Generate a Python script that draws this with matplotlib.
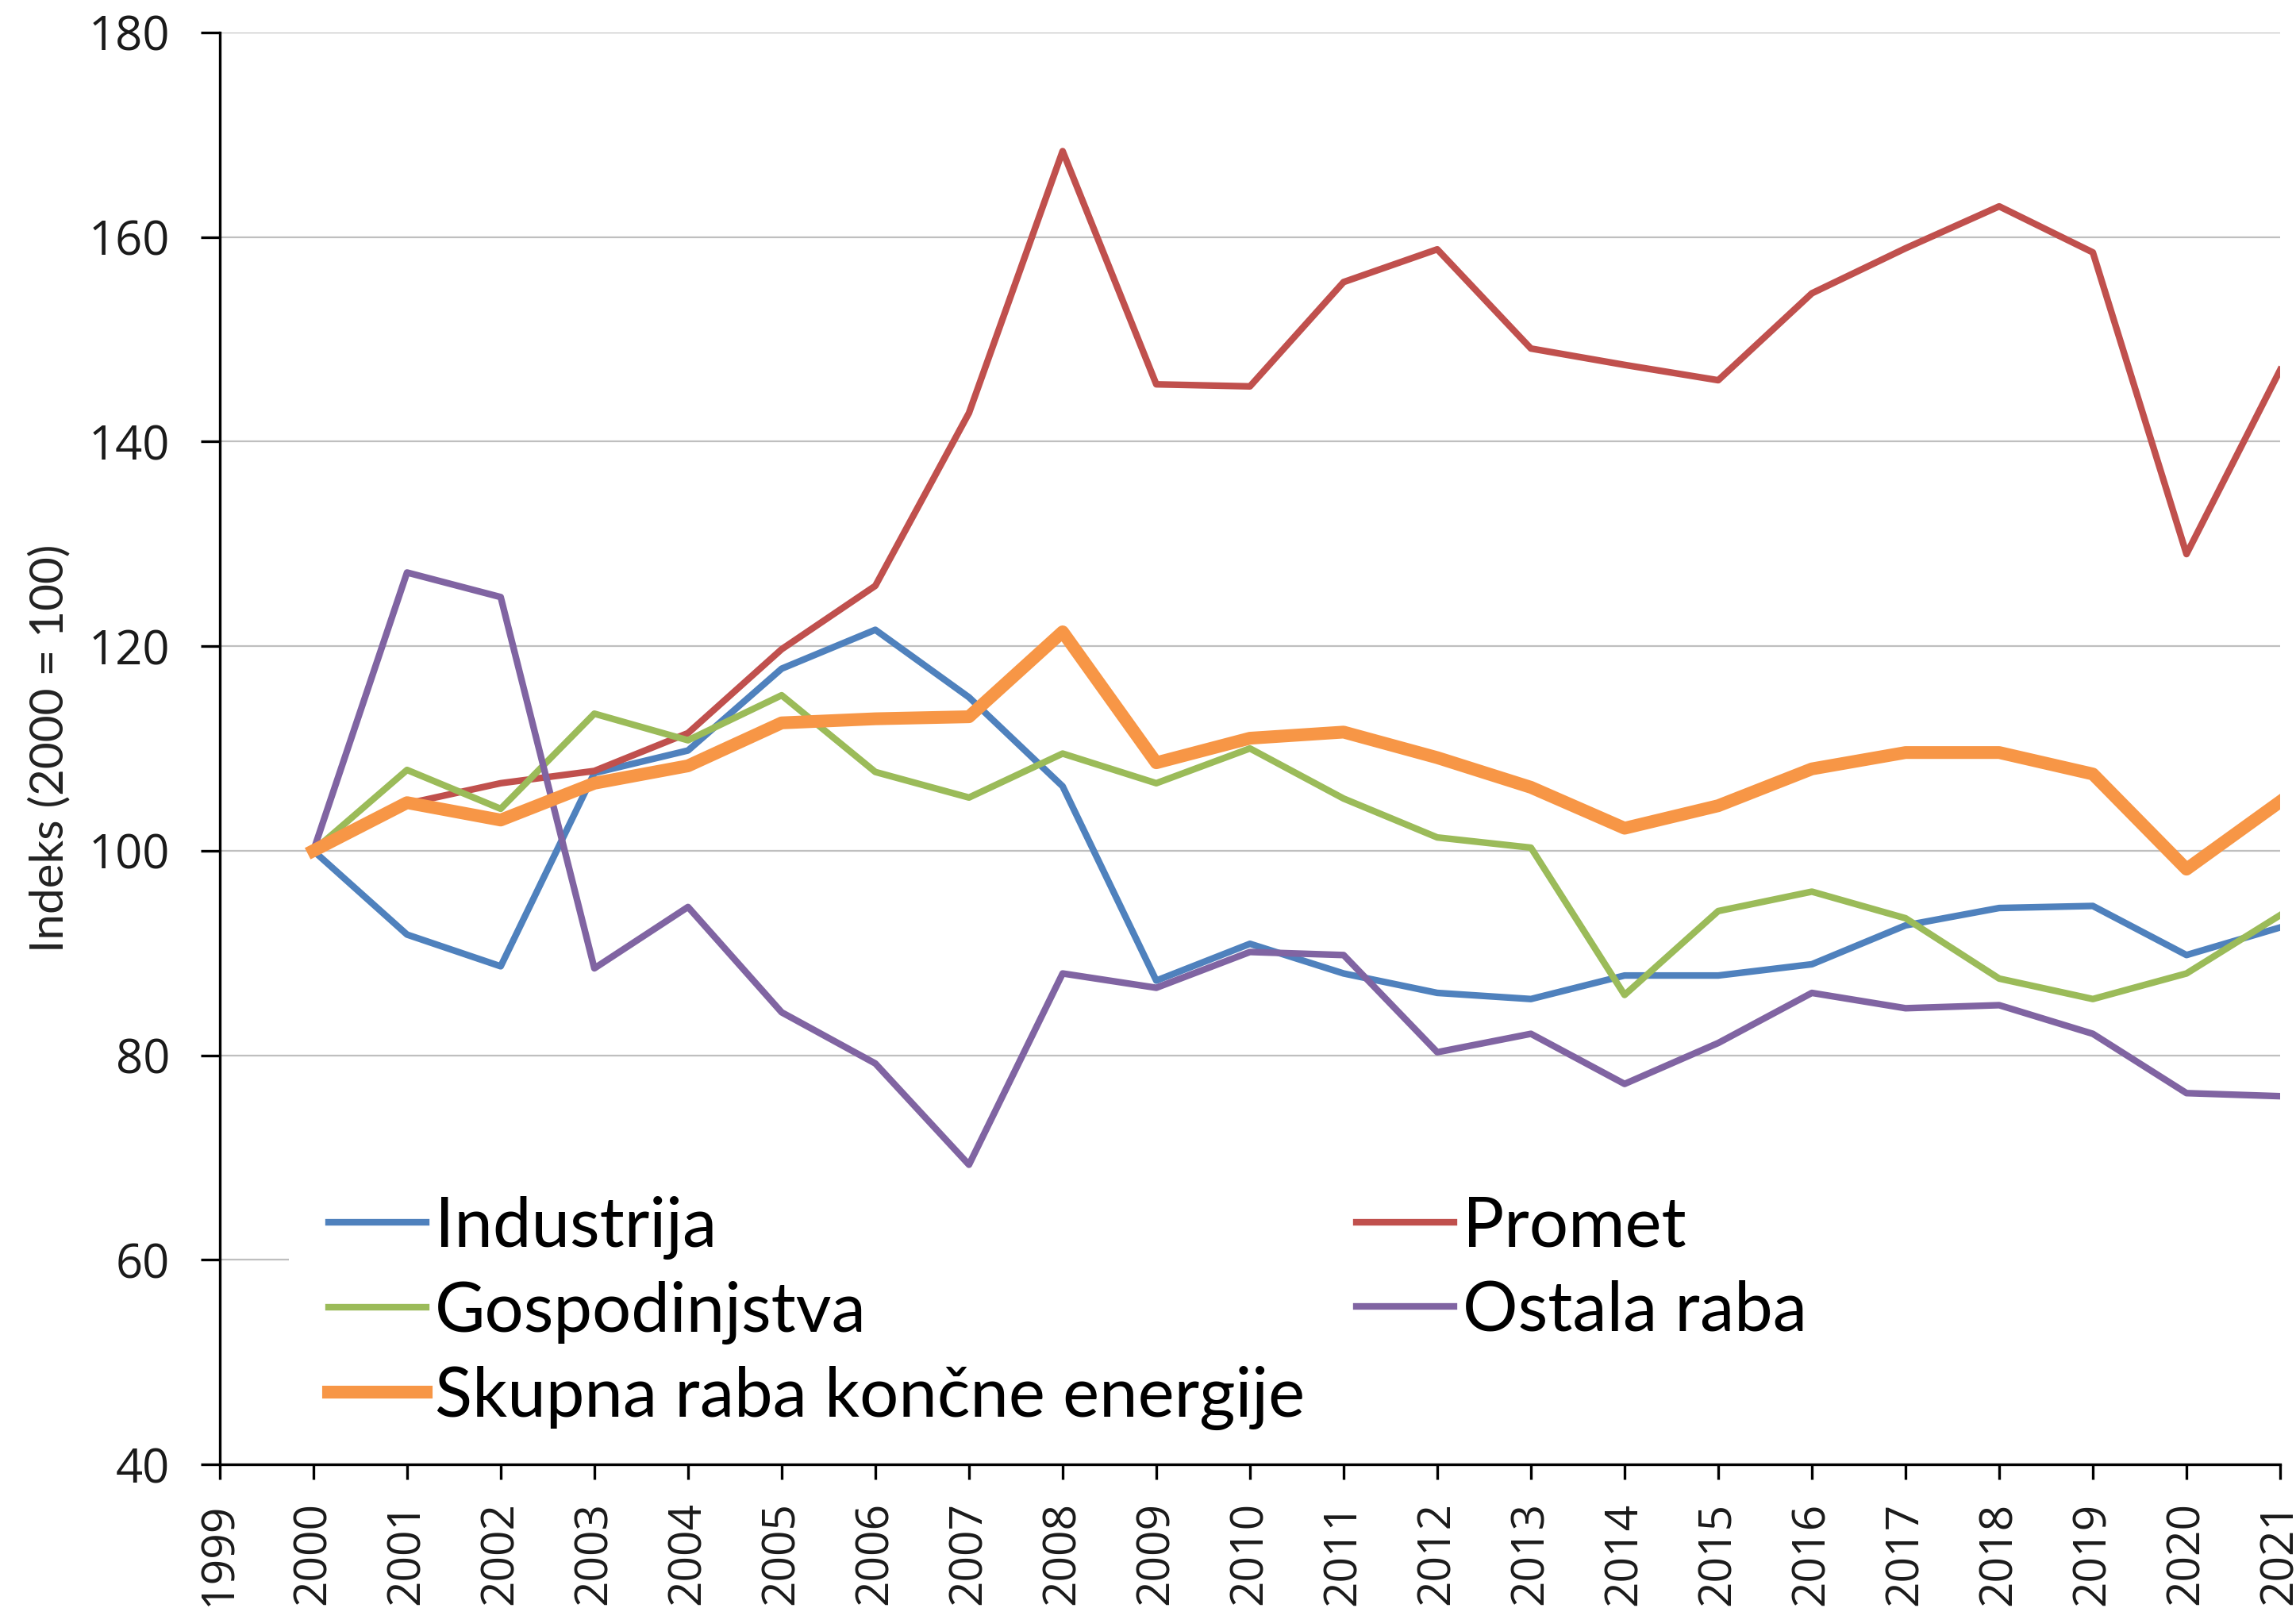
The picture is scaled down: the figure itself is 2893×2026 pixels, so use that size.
import matplotlib
matplotlib.use("Agg")
import matplotlib.pyplot as plt
from matplotlib.patches import Rectangle

# index values (2000 = 100)
years = list(range(2000, 2022))
industrija = [100, 91.8, 88.7, 107.6, 109.8, 117.8, 121.6, 115.0, 106.3, 87.3, 90.9,
              88.0, 86.1, 85.5, 87.8, 87.8, 88.9, 92.7, 94.4, 94.6, 89.8, 92.5]
promet = [100, 104.6, 106.6, 107.8, 111.5, 119.7, 125.9, 142.8, 168.4, 145.6, 145.4,
          155.6, 158.8, 149.1, 147.5, 146.0, 154.5, 158.9, 163.0, 158.5, 129.0, 147.0]
gospodinjstva = [100, 107.9, 104.1, 113.4, 110.8, 115.2, 107.7, 105.2, 109.5, 106.6, 110.0,
                 105.1, 101.3, 100.3, 85.9, 94.1, 96.0, 93.4, 87.5, 85.5, 88.0, 93.7]
ostala = [100, 127.2, 124.8, 88.5, 94.5, 84.2, 79.2, 69.3, 88.0, 86.6, 90.1,
          89.8, 80.3, 82.1, 77.2, 81.2, 86.1, 84.6, 84.9, 82.1, 76.3, 76.0]
skupna = [100, 104.7, 103.0, 106.6, 108.3, 112.5, 112.9, 113.1, 121.4, 108.6, 111.0,
          111.6, 109.1, 106.2, 102.2, 104.4, 108.0, 109.6, 109.6, 107.5, 98.2, 104.8]

tick_years = list(range(1999, 2022))
yticks = [40, 60, 80, 100, 120, 140, 160, 180]

fig = plt.figure(figsize=(2893 / 200, 2026 / 200), dpi=200)
ax = fig.add_axes([0.0957, 0.0893, 0.8974, 0.8905])

thin = 3.0
l_ind, = ax.plot(years, industrija, color="#4F81BD", lw=thin, label="Industrija", zorder=3)
l_pro, = ax.plot(years, promet, color="#C0504D", lw=thin, label="Promet", zorder=3)
l_gos, = ax.plot(years, gospodinjstva, color="#9BBB59", lw=thin, label="Gospodinjstva", zorder=3)
l_ost, = ax.plot(years, ostala, color="#8064A2", lw=thin, label="Ostala raba", zorder=3)
l_sku, = ax.plot(years, skupna, color="#F79646", lw=5.8, label="Skupna raba končne energije",
                 zorder=4)

ax.set_xlim(1999, 2021)
ax.set_ylim(40, 180)
ax.set_xticks(tick_years)
ax.set_xticklabels([str(y) for y in tick_years], rotation=90, fontsize=20.5,
                   family="Open Sans", color="#1a1a1a")
ax.set_yticks(yticks)
ax.set_yticklabels([str(v) for v in yticks], fontsize=21.5, family="Open Sans", color="#1a1a1a")

ax.yaxis.grid(True, color="#BFBFBF", lw=0.8)
ax.set_axisbelow(True)
for s in ["top", "right"]:
    ax.spines[s].set_visible(False)
for s in ["left", "bottom"]:
    ax.spines[s].set_linewidth(1.2)
    ax.spines[s].set_color("black")
ax.tick_params(axis="y", direction="out", length=8.5, width=1.2, pad=14)
ax.tick_params(axis="x", direction="out", length=7, width=1.2, pad=10)

ax.set_ylabel("Indeks (2000 = 100)", fontsize=21, family="Lato", labelpad=8, color="#222222")

# white legend area hides the 60 gridline like in the original
ax.add_patch(Rectangle((0.0334, 0.12), 0.9666, 0.05, transform=ax.transAxes,
                       facecolor="white", edgecolor="none", zorder=1))

leg = ax.legend(handles=[l_ind, l_gos, l_sku, l_pro, l_ost], ncol=2, loc="lower left",
                bbox_to_anchor=(0.036, 0.0), borderaxespad=0.2, frameon=True,
                facecolor="white", edgecolor="none", framealpha=1, fancybox=False,
                prop={"family": "Lato", "size": 31.3}, handlelength=1.42,
                handletextpad=0.12, columnspacing=0.75, labelspacing=0.31, borderpad=0.3)
leg.set_zorder(5)

fig.savefig("out.png", dpi=200, facecolor="white")
